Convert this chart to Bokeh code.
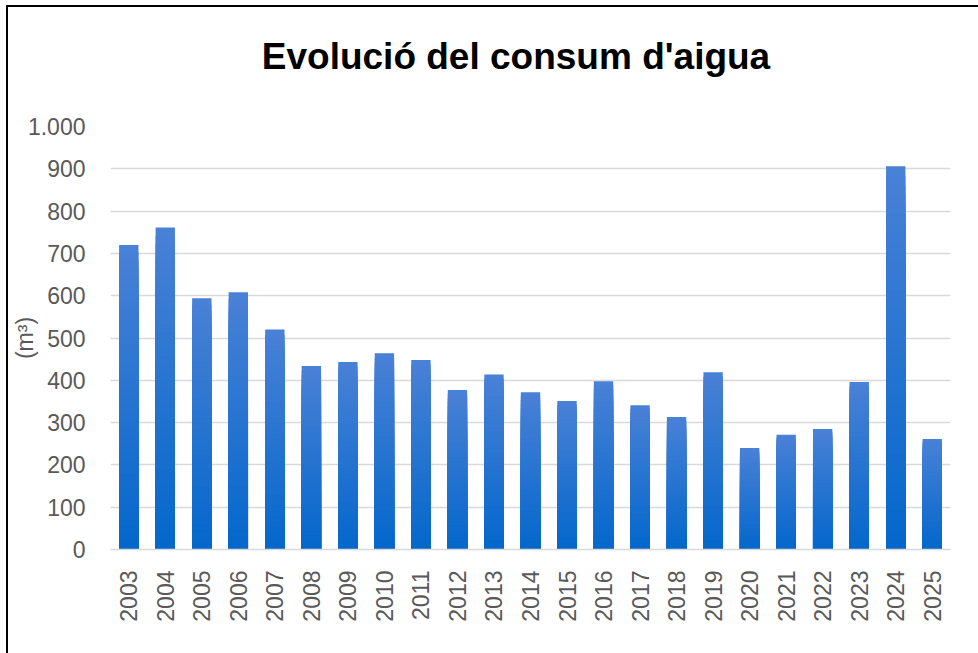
import math
from bokeh.plotting import figure
from bokeh.models import ColumnDataSource, FixedTicker, Range1d, Div
from bokeh.layouts import column
from bokeh.embed import file_html
from bokeh.resources import INLINE

years = ["2003", "2004", "2005", "2006", "2007", "2008", "2009", "2010", "2011",
         "2012", "2013", "2014", "2015", "2016", "2017", "2018", "2019", "2020",
         "2021", "2022", "2023", "2024", "2025"]
consum = [720, 761, 594, 608, 520, 434, 443, 464, 448, 377, 414, 372, 351, 398,
          341, 313, 419, 240, 271, 285, 396, 906, 261]
y_ticks = [0, 100, 200, 300, 400, 500, 600, 700, 800, 900, 1000]
title_text = "Evolució del consum d'aigua"
y_label = "(m³)"

FONT = "Liberation Sans"
TOP_RGB = (74, 129, 214)
BOT_RGB = (3, 103, 203)
N = 40
Y_MAX = 1000

title = Div(text=title_text, width=970, height=80,
            styles={"font-family": FONT, "font-size": "37px",
                    "font-weight": "bold", "text-align": "center",
                    "line-height": "44px", "padding-top": "23px",
                    "padding-left": "36px", "box-sizing": "border-box",
                    "color": "black", "white-space": "nowrap"})

p = figure(x_range=years, y_range=Range1d(0, Y_MAX), width=970, height=556,
           output_backend="svg", toolbar_location=None,
           min_border_left=99, min_border_right=28, min_border_top=29,
           min_border_bottom=104)
p.outline_line_color = None

# gradient bars: overlapping slices from tallest (light) to shortest (dark)
xs, tops, colors = [], [], []
for k in range(N):
    frac = (N - k) / N
    t = (k + 0.5) / N
    r = round(TOP_RGB[0] + (BOT_RGB[0] - TOP_RGB[0]) * t)
    g = round(TOP_RGB[1] + (BOT_RGB[1] - TOP_RGB[1]) * t)
    b = round(TOP_RGB[2] + (BOT_RGB[2] - TOP_RGB[2]) * t)
    col = "#%02x%02x%02x" % (r, g, b)
    for yr, v in zip(years, consum):
        xs.append(yr)
        tops.append(v * frac)
        colors.append(col)
src = ColumnDataSource(dict(x=xs, top=tops, color=colors))
p.vbar(x="x", top="top", bottom=0, width=0.53, fill_color="color",
       line_color=None, source=src)

# grid
p.xgrid.grid_line_color = None
p.ygrid.grid_line_color = "#d9d9d9"
p.ygrid.grid_line_width = 1.5

# y axis
p.yaxis.ticker = FixedTicker(ticks=y_ticks)
p.yaxis.major_label_overrides = {1000: "1.000"}
p.yaxis.axis_line_color = None
p.yaxis.major_tick_line_color = None
p.yaxis.minor_tick_line_color = None
p.yaxis.major_label_text_font = FONT
p.yaxis.major_label_text_font_size = "23px"
p.yaxis.major_label_text_color = "#595959"
p.yaxis.major_label_standoff = 19
p.yaxis.axis_label = y_label
p.yaxis.axis_label_text_font = FONT
p.yaxis.axis_label_text_font_size = "23px"
p.yaxis.axis_label_text_font_style = "normal"
p.yaxis.axis_label_text_color = "#595959"
p.yaxis.axis_label_standoff = -13

# x axis
p.xaxis.axis_line_color = "#d9d9d9"
p.xaxis.axis_line_width = 1.5
p.xaxis.major_tick_line_color = None
p.xaxis.minor_tick_line_color = None
p.xaxis.major_label_orientation = math.pi / 2
p.xaxis.major_label_text_font = FONT
p.xaxis.major_label_text_font_size = "23px"
p.xaxis.major_label_text_color = "#595959"
p.xaxis.major_label_standoff = 15
p.x_range.range_padding = 0

layout = column(title, p, spacing=0,
                styles={"margin-left": "6px", "margin-top": "5px",
                        "border-left": "2px solid black",
                        "border-top": "2px solid black",
                        "background-color": "white"})

open("out.html", "w").write(file_html(layout, INLINE))
